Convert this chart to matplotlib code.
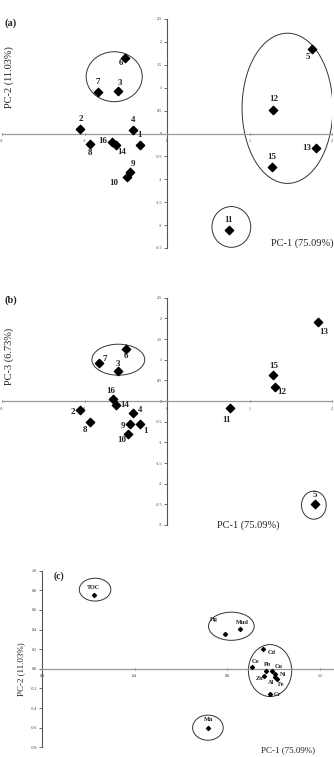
import matplotlib
matplotlib.use("Agg")
import matplotlib.pyplot as plt
from matplotlib.patches import Ellipse

# ---- data ------------------------------------------------------------
sites = ["1", "2", "3", "4", "5", "6", "7", "8", "9", "10",
         "11", "12", "13", "14", "15", "16"]
pc1 = [-0.33, -1.05, -0.59, -0.41, 1.76, -0.51, -0.84, -0.93, -0.45, -0.48,
       0.75, 1.29, 1.81, -0.62, 1.27, -0.67]
pc2 = [-0.25, 0.10, 0.93, 0.08, 1.85, 1.65, 0.91, -0.24, -0.84, -0.96,
       -2.11, 0.52, -0.32, -0.25, -0.73, -0.19]
pc1_b = [-0.33, -1.05, -0.59, -0.41, 1.79, -0.50, -0.83, -0.93, -0.45, -0.47,
         0.76, 1.31, 1.83, -0.62, 1.29, -0.66]
pc3 = [-0.55, -0.22, 0.72, -0.30, -2.50, 1.27, 0.93, -0.51, -0.56, -0.81,
       -0.16, 0.35, 1.91, -0.09, 0.62, 0.06]

variables = ["TOC", "Hg", "Mud", "Cd", "Co", "Pb", "Cu", "Ni", "Zn", "Al",
             "Fe", "Cr", "Mn"]
load1 = [0.224, 0.79, 0.856, 0.955, 0.908, 0.967, 0.991, 1.006, 0.958, 1.006,
         1.014, 0.984, 0.718]
load2 = [0.75, 0.35, 0.405, 0.199, 0.015, -0.02, -0.02, -0.057, -0.072, -0.082,
         -0.10, -0.26, -0.60]

# ---- label offsets (pixels) and group ellipses (data units) ------------
off_a = {"1": (0, 10), "2": (0, 10), "3": (2, 8), "4": (0, 10), "5": (-4, -8),
         "6": (-4, -5), "7": (0, 10), "8": (0, -9), "9": (3, 8), "10": (-14, -6),
         "11": (0, 10), "12": (0, 11), "13": (-10, 0), "14": (6, -7),
         "15": (0, 10), "16": (-9, 1)}
off_b = {"1": (6, -7), "2": (-8, -2), "3": (0, 7), "4": (7, 3), "5": (0, 9),
         "6": (0, -7), "7": (6, 4), "8": (-5, -8), "9": (-7, -2), "10": (-6, -6),
         "11": (-3, -12), "12": (7, -5), "13": (6, -10), "14": (9, 0),
         "15": (0, 9), "16": (-2, 8)}
off_c = {"TOC": (0, 8), "Hg": (-11, 15), "Mud": (2, 7), "Cd": (8, -3),
         "Co": (3, 6), "Pb": (1, 6), "Cu": (7, 4), "Ni": (8, 0), "Zn": (-4, -3),
         "Al": (-4, -6), "Fe": (4, -6), "Cr": (7, 0), "Mn": (0, 8)}
ell_a = [(-0.64, 1.24, 0.68, 1.09), (1.46, 0.55, 1.10, 3.28), (0.78, -2.04, 0.47, 0.89)]
ell_b = [(-0.59, 1.00, 0.64, 0.75), (1.78, -2.52, 0.30, 0.68)]
ell_c = [(0.229, 0.807, 0.136, 0.233), (0.817, 0.434, 0.197, 0.287),
         (0.984, -0.018, 0.187, 0.53), (0.716, -0.60, 0.132, 0.256)]

W, H = 334, 757
SERIF = ["Liberation Serif", "DejaVu Serif"]
plt.rcParams["font.family"] = SERIF
plt.rcParams["axes.unicode_minus"] = False

fig = plt.figure(figsize=(W / 100, H / 100), dpi=100)


def px_axes(x0, y0, x1, y1):
    return fig.add_axes([x0 / W, 1 - y1 / H, (x1 - x0) / W, (y1 - y0) / H])


def style_axes(ax, xt, yt, xfmt, yfmt, fs):
    for s in ("top", "right"):
        ax.spines[s].set_visible(False)
    ax.spines["left"].set_position(("data", 0))
    ax.spines["bottom"].set_position(("data", 0))
    ax.spines["left"].set_color("#555555")
    ax.spines["bottom"].set_color("#999999")
    ax.spines["left"].set_linewidth(0.8)
    ax.spines["bottom"].set_linewidth(0.9)
    ax.set_xticks(xt)
    ax.set_yticks(yt)
    ax.set_xticklabels([xfmt % v for v in xt])
    ax.set_yticklabels([yfmt % v for v in yt])
    ax.tick_params(axis="y", direction="out", length=2, width=0.5, pad=1.5,
                   labelsize=fs, colors="#333333")
    ax.tick_params(axis="x", direction="inout", length=2, width=0.5, pad=3,
                   labelsize=fs, colors="#333333")
    ax.patch.set_alpha(0)


def add_ellipses(ax, ells):
    for cx, cy, w, h in ells:
        ax.add_patch(Ellipse((cx, cy), w, h, fill=False, edgecolor="#333333",
                             linewidth=0.7))


def label_points(ax, names, xs, ys, offs, fs, weight):
    for n, x, y in zip(names, xs, ys):
        dx, dy = offs[n]
        ax.annotate(n, (x, y), xytext=(dx, dy), textcoords="offset pixels",
                    ha="center", va="center", fontsize=fs, fontweight=weight,
                    color="#222222")


# ---- (a) ---------------------------------------------------------------
ax = px_axes(2, 19, 332, 248)
ax.set_xlim(-2, 2)
ax.set_ylim(-2.5, 2.5)
style_axes(ax, [-2, -1, 0, 1, 2], [-2.5, -2, -1.5, -1, -0.5, 0, 0.5, 1, 1.5, 2, 2.5],
           "%g", "%g", 3)
ax.scatter(pc1, pc2, marker="D", s=18, color="black", zorder=3)
label_points(ax, sites, pc1, pc2, off_a, 6.5, "bold")
add_ellipses(ax, ell_a)

# ---- (b) ---------------------------------------------------------------
ax = px_axes(2, 297.7, 332, 525)
ax.set_xlim(-2, 2)
ax.set_ylim(-3, 2.5)
style_axes(ax, [-2, -1, 0, 1, 2], [-3, -2.5, -2, -1.5, -1, -0.5, 0, 0.5, 1, 1.5, 2, 2.5],
           "%g", "%g", 3)
ax.scatter(pc1_b, pc3, marker="D", s=18, color="black", zorder=3)
label_points(ax, sites, pc1_b, pc3, off_b, 6.5, "bold")
add_ellipses(ax, ell_b)

# ---- (c) ---------------------------------------------------------------
ax = px_axes(42, 570.7, 334, 747.3)
ax.set_xlim(0, 1.26)
ax.set_ylim(-0.8, 1.0)
style_axes(ax, [0, 0.4, 0.8, 1.2], [-0.8, -0.6, -0.4, -0.2, 0, 0.2, 0.4, 0.6, 0.8, 1.0],
           "%.1f", "%.1f", 3)
ax.scatter(load1, load2, marker="D", s=4, color="black", zorder=3)
label_points(ax, variables, load1, load2, off_c, 4.5, "bold")
add_ellipses(ax, ell_c)

# ---- panel and axis titles ---------------------------------------------
def ftext(x, y, s, **kw):
    fig.text(x / W, 1 - y / H, s, ha="center", va="center", color="#222222", **kw)

ftext(11, 23, "(a)", fontsize=7.5, fontweight="bold")
ftext(9, 77, "PC-2 (11.03%)", fontsize=7.5, rotation=90)
ftext(302, 243, "PC-1 (75.09%)", fontsize=7.5)

ftext(11, 300, "(b)", fontsize=7.5, fontweight="bold")
ftext(9, 356, "PC-3 (6.73%)", fontsize=7.5, rotation=90)
ftext(248, 525, "PC-1 (75.09%)", fontsize=7.5)

ftext(59, 576, "(c)", fontsize=7, fontweight="bold")
ftext(21, 669, "PC-2 (11.03%)", fontsize=6.5, rotation=90)
ftext(288, 750, "PC-1 (75.09%)", fontsize=6.5)

fig.savefig("out.png", dpi=100, facecolor="white")
